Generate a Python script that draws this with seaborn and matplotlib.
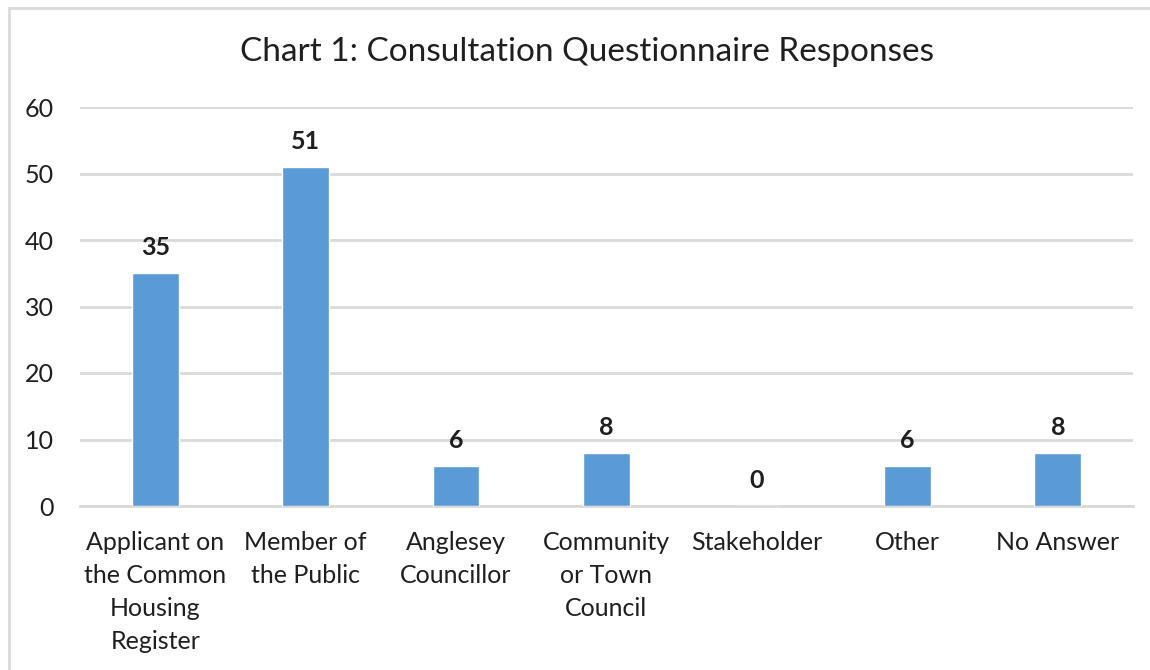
import matplotlib
matplotlib.use("Agg")
import matplotlib.pyplot as plt
from matplotlib.lines import Line2D
import seaborn as sns
import pandas as pd

categories = [
    "Applicant on\nthe Common\nHousing\nRegister",
    "Member of\nthe Public",
    "Anglesey\nCouncillor",
    "Community\nor Town\nCouncil",
    "Stakeholder",
    "Other",
    "No Answer",
]
responses = [35, 51, 6, 8, 0, 6, 8]
y_ticks = [0, 10, 20, 30, 40, 50, 60]

BAR = "#5B9BD5"
GRID = "#D9D9D9"
TEXT = "#1F1F1F"

sns.set_theme(style="white")
plt.rcParams["font.family"] = ["Lato", "DejaVu Sans"]

df = pd.DataFrame({"category": categories, "responses": responses})

fig = plt.figure(figsize=(11.5, 6.7), dpi=100)
ax = fig.add_axes([80 / 1150, 1 - 506 / 670, (1133 - 80) / 1150, (506 - 107) / 670])

sns.barplot(data=df, x="category", y="responses", color=BAR, saturation=1,
            width=0.31, ax=ax, zorder=3)

ax.set_xlim(-0.5, len(categories) - 0.5)
ax.set_ylim(0, 60)
ax.set_yticks(y_ticks)
ax.set_yticklabels([str(t) for t in y_ticks])
ax.yaxis.grid(True, color=GRID, linewidth=2, zorder=0)
ax.set_axisbelow(True)
for side in ["top", "right", "left"]:
    ax.spines[side].set_visible(False)
ax.spines["bottom"].set_color(GRID)
ax.spines["bottom"].set_linewidth(2)
ax.tick_params(axis="both", length=0, labelsize=18, colors=TEXT)
ax.tick_params(axis="x", pad=18)
ax.tick_params(axis="y", pad=19)
for lbl in ax.get_xticklabels():
    lbl.set_linespacing(1.52)
ax.set_xlabel("")
ax.set_ylabel("")

for i, v in enumerate(responses):
    ax.annotate(str(v), (i, v), xytext=(0, 10), textcoords="offset points",
                ha="center", va="bottom", fontsize=18, fontweight="bold",
                color=TEXT)

fig.text(587 / 1150, 1 - 52 / 670, "Chart 1: Consultation Questionnaire Responses",
         ha="center", va="center", fontsize=24, color=TEXT)

# chart-area frame (top and left edges)
fig.add_artist(Line2D([9 / 1150, 1.0], [1 - 8 / 670, 1 - 8 / 670],
                      transform=fig.transFigure, color="#D9D9D9", linewidth=2))
fig.add_artist(Line2D([9 / 1150, 9 / 1150], [0.0, 1 - 8 / 670],
                      transform=fig.transFigure, color="#D9D9D9", linewidth=2))

fig.savefig("out.png", dpi=100, facecolor="white")
